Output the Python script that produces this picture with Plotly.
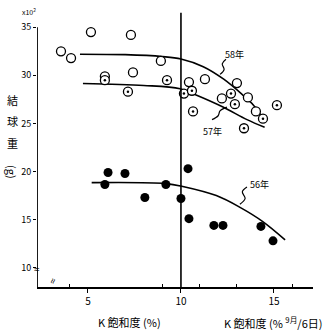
import plotly.graph_objects as go

# --- data ---
# 58年 (open circles)
x58 = [3.55, 4.09, 5.16, 7.31, 7.42, 8.92, 10.43, 11.29, 13.01, 12.2, 13.6, 14.03, 5.91]
y58 = [32.5, 31.8, 34.5, 34.2, 30.3, 31.5, 29.3, 29.6, 29.2, 27.6, 27.7, 26.25, 29.9]
# 57年 (circles with dot)
x57 = [5.91, 7.15, 9.25, 10.16, 10.59, 10.65, 12.69, 12.9, 14.41, 15.16, 13.39]
y57 = [29.5, 28.3, 29.5, 28.1, 28.4, 26.25, 28.1, 27.0, 25.5, 26.9, 24.5]
# 56年 (filled circles)
x56 = [6.08, 6.99, 5.91, 8.06, 9.19, 10.0, 10.38, 10.43, 11.77, 12.26, 14.3, 14.95]
y56 = [19.9, 19.8, 18.65, 17.3, 18.65, 17.2, 20.3, 15.1, 14.4, 14.4, 14.3, 12.8]

# fitted curves
cx58 = [4.57, 7.0, 9.0, 10.0, 11.2, 12.3, 13.3, 13.9, 14.35]
cy58 = [32.2, 32.15, 31.95, 31.7, 30.9, 29.6, 28.0, 26.9, 25.7]
cx57 = [4.73, 8.0, 9.95, 10.75, 12.26, 13.55, 14.5]
cy57 = [29.15, 28.95, 28.6, 28.0, 26.7, 25.4, 24.6]
cx56 = [5.2, 9.2, 10.1, 11.9, 13.2, 14.4, 15.6]
cy56 = [18.85, 18.75, 18.45, 17.5, 16.25, 14.8, 12.9]

# leader lines
lx58 = [12.42, 12.22, 12.32, 12.10]
ly58 = [31.67, 31.2, 30.6, 30.1]
lx57 = [11.67, 12.0, 12.1, 12.47]
ly57 = [25.4, 25.8, 26.3, 26.7]
lx56 = [13.55, 13.3, 13.45, 13.17]
ly56 = [18.4, 17.9, 17.2, 16.6]

yticks = [10, 15, 20, 25, 30, 35]
xticks = [5, 10, 15]
labels = ["58年", "57年", "56年"]
ylabel_chars = ["結", "球", "重", "(g)"]

XMIN, XMAX = 2.26, 17.1
YMIN, YMAX = 8.0, 37.0

FONT = "Noto Sans CJK JP"
fig = go.Figure()

for cx, cy in [(cx58, cy58), (cx57, cy57), (cx56, cy56)]:
    fig.add_trace(go.Scatter(x=cx, y=cy, mode="lines",
                             line=dict(color="black", width=1.6, shape="spline"),
                             showlegend=False, hoverinfo="skip"))
for lx, ly in [(lx58, ly58), (lx57, ly57), (lx56, ly56)]:
    fig.add_trace(go.Scatter(x=lx, y=ly, mode="lines",
                             line=dict(color="black", width=1.2, shape="spline"),
                             showlegend=False, hoverinfo="skip"))

fig.add_trace(go.Scatter(x=x58, y=y58, mode="markers",
                         marker=dict(symbol="circle", size=9, color="white",
                                     line=dict(color="black", width=1.3)),
                         showlegend=False))
fig.add_trace(go.Scatter(x=x57, y=y57, mode="markers",
                         marker=dict(symbol="circle", size=9, color="white",
                                     line=dict(color="black", width=1.3)),
                         showlegend=False))
fig.add_trace(go.Scatter(x=x57, y=y57, mode="markers",
                         marker=dict(symbol="circle", size=2.5, color="black"),
                         showlegend=False, hoverinfo="skip"))
fig.add_trace(go.Scatter(x=x56, y=y56, mode="markers",
                         marker=dict(symbol="circle", size=9, color="black"),
                         showlegend=False))

# vertical line at 10 and y axis line
fig.add_shape(type="line", x0=10, x1=10, y0=YMIN, y1=36.5,
              line=dict(color="black", width=1.6))
fig.add_shape(type="line", x0=XMIN, x1=XMIN, y0=YMIN, y1=35,
              line=dict(color="black", width=1.8))

for txt, (ax, ay) in zip(labels, [(12.9, 32.2), (11.72, 24.2), (14.25, 18.65)]):
    fig.add_annotation(x=ax, y=ay, text=txt, showarrow=False,
                       font=dict(family=FONT, size=9, color="black"))

fig.add_annotation(xref="paper", yref="paper", x=-0.03, y=0.986, text="x10<sup>2</sup>",
                   showarrow=False, font=dict(family=FONT, size=7, color="black"),
                   xanchor="center", yanchor="middle")

# vertical y-axis title, one character per annotation
for ch, py in zip(ylabel_chars, [100, 121, 143, 172]):
    fig.add_annotation(xref="paper", yref="paper", x=(12 - 37) / 276,
                       y=1 - (py - 8) / 279, text=ch, showarrow=False,
                       textangle=90 if len(ch) > 1 else 0,
                       font=dict(family=FONT, size=11, color="black"),
                       xanchor="center", yanchor="middle")

fig.add_annotation(xref="paper", yref="paper", x=0.335, y=-0.09,
                   text="K 飽和度 (%)", showarrow=False, yanchor="top",
                   font=dict(family=FONT, size=11, color="black"))
fig.add_annotation(xref="paper", yref="paper", x=1.04, y=-0.09,
                   text="K 飽和度 (% <sup>9月</sup>/6日)", showarrow=False,
                   yanchor="top", xanchor="right",
                   font=dict(family=FONT, size=11, color="black"))
# axis break marks
fig.add_annotation(xref="paper", yref="paper", x=-0.018, y=0.032, text="≈",
                   showarrow=False, font=dict(size=10, color="black"))
fig.add_annotation(xref="paper", yref="paper", x=0.02, y=-0.007, text="≈",
                   showarrow=False, textangle=-70, font=dict(size=10, color="black"))

fig.update_xaxes(range=[XMIN, XMAX], tickvals=xticks, ticks="outside", ticklen=4,
                 tickcolor="black", showline=True, linecolor="black", linewidth=1.8,
                 showgrid=False, zeroline=False,
                 minor=dict(tickvals=[4, 9, 11, 13, 16], ticks="inside", ticklen=3,
                            tickcolor="black"),
                 tickfont=dict(family=FONT, size=10, color="black"))
fig.update_yaxes(range=[YMIN, YMAX], tickvals=yticks, ticks="outside", ticklen=3,
                 tickcolor="black", showline=False, showgrid=False, zeroline=False,
                 tickfont=dict(family=FONT, size=9, color="black"))
fig.update_layout(width=325, height=330, margin=dict(l=37, r=12, t=8, b=43),
                  plot_bgcolor="white", paper_bgcolor="white")
fig.write_html("out.html")
